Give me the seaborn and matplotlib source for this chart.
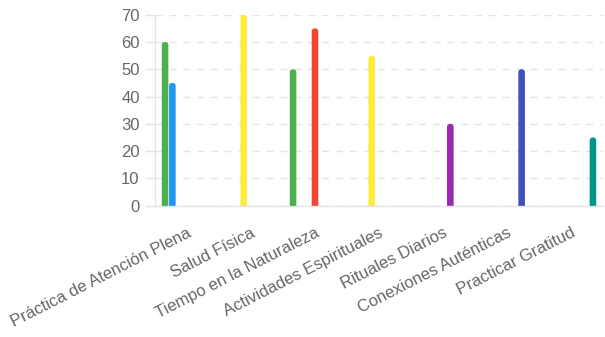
import matplotlib
matplotlib.use("Agg")
import matplotlib.pyplot as plt
from matplotlib.patches import FancyBboxPatch, Rectangle
import pandas as pd
import seaborn as sns

# Categories along the x axis
categories = [
    "Práctica de Atención Plena",
    "Salud Física",
    "Tiempo en la Naturaleza",
    "Actividades Espirituales",
    "Rituales Diarios",
    "Conexiones Auténticas",
    "Practicar Gratitud",
]

# One series per colour; None where a series has no value for a category
series_names = ["Mente", "Cuerpo", "Energía", "Entorno", "Rutina", "Vínculos", "Gratitud"]
mente = [60, None, 50, None, None, None, None]
cuerpo = [45, None, None, None, None, None, None]
energia = [None, 70, None, 55, None, None, None]
entorno = [None, None, 65, None, None, None, None]
rutina = [None, None, None, None, 30, None, None]
vinculos = [None, None, None, None, None, 50, None]
gratitud = [None, None, None, None, None, None, 25]
series_values = [mente, cuerpo, energia, entorno, rutina, vinculos, gratitud]
colors = ["#4CAF50", "#2196F3", "#FFEB3B", "#F44336", "#9C27B0", "#3F51B5", "#009688"]

y_ticks = [0, 10, 20, 30, 40, 50, 60, 70]

rows = []
for name, vals in zip(series_names, series_values):
    for cat, v in zip(categories, vals):
        if v is not None:
            rows.append({"categoria": cat, "valor": v, "serie": name})
df = pd.DataFrame(rows)

sns.set_theme(style="white")
plt.rcParams["font.family"] = ["Liberation Sans", "DejaVu Sans"]

text_color = "#666666"
grid_color = "#e4e4e4"
font_size = 12.0

fig = plt.figure(figsize=(6.05, 3.37), dpi=100)
ax = fig.add_axes([155 / 605, 1 - 205.7 / 337, 448 / 605, 191 / 337])

sns.barplot(
    data=df, x="categoria", y="valor", hue="serie",
    order=categories, hue_order=series_names, palette=colors,
    dodge=True, width=0.8, gap=0.1, legend=False, ax=ax,
    saturation=1, errorbar=None,
)

ax.set_xlim(-0.5, len(categories) - 0.5)
ax.set_ylim(0, 70)
ax.set_yticks(y_ticks)
ax.set_xlabel("")
ax.set_ylabel("")

# Round the top of every bar
fig.canvas.draw()
p0 = ax.transData.transform((0, 0))
px_per_x = ax.transData.transform((1, 0))[0] - p0[0]
px_per_y = ax.transData.transform((0, 1))[1] - p0[1]
aspect = px_per_x / px_per_y
bars = [p for p in ax.patches if isinstance(p, Rectangle)]
for p in bars:
    x, w, h = p.get_x(), p.get_width(), p.get_height()
    fc = p.get_facecolor()
    p.remove()
    r = w / 2
    r_y = r * aspect
    fb = FancyBboxPatch(
        (x, -r_y), w, h + r_y,
        boxstyle=f"round,pad=0,rounding_size={r}",
        mutation_aspect=aspect, facecolor=fc, edgecolor="none",
        zorder=2,
    )
    ax.add_patch(fb)
    fb.set_clip_path(ax.patch)

# Grid and axes styling
ax.set_axisbelow(True)
ax.yaxis.grid(True, color=grid_color, linestyle=(0, (5, 5)), linewidth=1)
ax.xaxis.grid(False)
for side in ["top", "right"]:
    ax.spines[side].set_visible(False)
ax.spines["left"].set_color(grid_color)
ax.spines["bottom"].set_color(grid_color)
ax.spines["left"].set_linewidth(1)
ax.spines["bottom"].set_linewidth(1)

ax.tick_params(axis="y", length=7, width=1, color=grid_color, pad=4,
               labelsize=font_size, labelcolor=text_color, left=True)
ax.tick_params(axis="x", length=0, pad=14, labelsize=font_size, labelcolor=text_color,
               bottom=False)
for lbl in ax.get_xticklabels():
    lbl.set_rotation(27)
    lbl.set_ha("right")
    lbl.set_va("top")
    lbl.set_rotation_mode("anchor")

fig.savefig("out.png", dpi=100)
